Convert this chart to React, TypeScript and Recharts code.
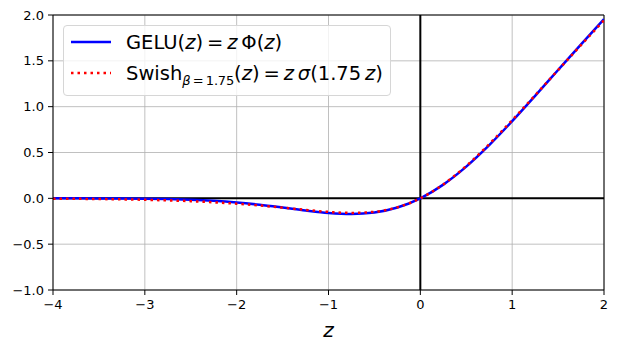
import React from "react"
import {
  LineChart,
  Line,
  XAxis,
  YAxis,
  CartesianGrid,
  ReferenceLine,
} from "recharts"

const zValues = [
  -4, -3.75, -3.5, -3.25, -3, -2.75, -2.5, -2.25, -2, -1.75, -1.5, -1.25, -1,
  -0.75, -0.5, -0.25, 0, 0.25, 0.5, 0.75, 1, 1.25, 1.5, 1.75, 2,
]
const geluValues = [
  -0.0001, -0.0003, -0.0008, -0.0019, -0.004, -0.0082, -0.0155, -0.0275,
  -0.0455, -0.0702, -0.1002, -0.132, -0.1587, -0.17, -0.1543, -0.1003, 0,
  0.1497, 0.3457, 0.58, 0.8413, 1.118, 1.3998, 1.6798, 1.9545,
]
const swishValues = [
  -0.0036, -0.0053, -0.0076, -0.0109, -0.0157, -0.0223, -0.031, -0.0432,
  -0.0586, -0.0782, -0.1014, -0.1262, -0.148, -0.159, -0.147, -0.098, 0,
  0.152, 0.353, 0.591, 0.852, 1.124, 1.399, 1.672, 1.941,
]
const xTicks = [-4, -3, -2, -1, 0, 1, 2]
const yTicks = [-1, -0.5, 0, 0.5, 1, 1.5, 2]

const data = zValues.map((z, i) => ({
  z,
  gelu: geluValues[i],
  swish: swishValues[i],
}))

const font = "'DejaVu Sans', sans-serif"
const minus = (s: string) => s.replace("-", "\u2212")
const tickStyle = { fontSize: 13, fill: "#000", fontFamily: font }

function Legend() {
  const row: React.CSSProperties = {
    position: "absolute",
    left: 6,
    display: "flex",
    alignItems: "center",
    whiteSpace: "nowrap",
  }
  const it: React.CSSProperties = { fontStyle: "italic" }
  return (
    <div
      style={{
        position: "absolute",
        left: 63,
        top: 25,
        width: 326,
        height: 69,
        border: "1px solid #d6d6d6",
        borderRadius: 4,
        background: "rgba(255,255,255,0.8)",
        fontFamily: font,
        fontSize: 19.5,
        color: "#000",
      }}
    >
      <div style={{ ...row, top: 4 }}>
        <svg width={42} height={24} style={{ marginRight: 14 }}>
          <line x1={1} y1={12} x2={41} y2={12} stroke="#0000ff" strokeWidth={2.5} />
        </svg>
        <span>
          GELU(<span style={it}>z</span>)&thinsp;=&thinsp;<span style={it}>z</span>
          &thinsp;Φ(<span style={it}>z</span>)
        </span>
      </div>
      <div style={{ ...row, top: 35 }}>
        <svg width={42} height={24} style={{ marginRight: 14 }}>
          <line
            x1={1}
            y1={12}
            x2={41}
            y2={12}
            stroke="#ff0000"
            strokeWidth={2.5}
            strokeDasharray="2.5 4"
          />
        </svg>
        <span>
          Swish
          <span style={{ fontSize: 13, position: "relative", top: 5, letterSpacing: -0.2 }}>
            <span style={it}>β</span>&thinsp;=&thinsp;1.75
          </span>
          (<span style={it}>z</span>)&thinsp;=&thinsp;<span style={it}>z</span>
          &thinsp;<span style={it}>σ</span>(1.75&thinsp;<span style={it}>z</span>)
        </span>
      </div>
    </div>
  )
}

export default function App() {
  return (
    <div
      style={{
        position: "absolute",
        left: 0,
        top: 0,
        width: 618,
        height: 348,
        background: "#fff",
      }}
    >
      <LineChart
        width={618}
        height={348}
        data={data}
        margin={{ top: 15, right: 14, bottom: 28, left: 0 }}
      >
        <CartesianGrid stroke="#b0b0b0" strokeWidth={0.8} />
        <XAxis
          dataKey="z"
          type="number"
          domain={[-4, 2]}
          ticks={xTicks}
          tickFormatter={(v) => minus(String(v))}
          tick={tickStyle}
          tickSize={5}
          tickMargin={5}
          height={30}
          stroke="#000"
          allowDataOverflow
          label={{
            value: "z",
            position: "insideBottom",
            offset: -17,
            style: { fontSize: 20, fontStyle: "italic", fill: "#000", fontFamily: font },
          }}
        />
        <YAxis
          type="number"
          domain={[-1, 2]}
          ticks={yTicks}
          tickFormatter={(v) => minus(Number(v).toFixed(1))}
          tick={tickStyle}
          tickSize={5}
          tickMargin={4}
          width={53}
          stroke="#000"
          allowDataOverflow
        />
        <ReferenceLine y={2} stroke="#000" strokeWidth={1} />
        <ReferenceLine x={2} stroke="#000" strokeWidth={1} />
        <ReferenceLine y={0} stroke="#000" strokeWidth={2} />
        <ReferenceLine x={0} stroke="#000" strokeWidth={2} />
        <Line
          dataKey="gelu"
          type="monotone"
          stroke="#0000ff"
          strokeWidth={2.5}
          dot={false}
          isAnimationActive={false}
        />
        <Line
          dataKey="swish"
          type="monotone"
          stroke="#ff0000"
          strokeWidth={2.5}
          strokeDasharray="2.5 4"
          dot={false}
          isAnimationActive={false}
        />
      </LineChart>
      <Legend />
    </div>
  )
}
